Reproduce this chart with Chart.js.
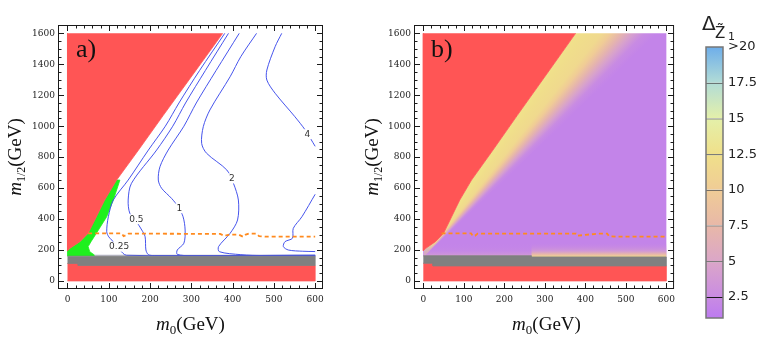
<!DOCTYPE html>
<html><head><meta charset="utf-8"><title>m0 - m1/2 plane</title>
<script src="https://cdn.jsdelivr.net/npm/chart.js@4.4.1/dist/chart.umd.min.js"></script>
<style>
html,body{margin:0;padding:0;background:#fff;}
#wrap{position:relative;width:763px;height:340px;overflow:hidden;background:#fff;}
#wrap canvas{position:absolute;top:0;}
</style></head><body><div id="wrap">
<canvas id="cA" width="340" height="340" style="left:0"></canvas>
<canvas id="cB" width="340" height="340" style="left:340px"></canvas>
<canvas id="cC" width="83" height="340" style="left:680px"></canvas>
</div>
<script>
// ---------------- data ----------------
const xTicks = [0,100,200,300,400,500,600];
const yTicks = [0,200,400,600,800,1000,1200,1400,1600];

// excluded (red) region boundary, bottom -> top
const redEdge = [[0,195],[6,211],[30,254],[50,308],[70,415],[90,523],[119,652],[172,846],[232,1070],[303,1331],[376,1600]];
// right edge of the green strip, top -> bottom
const greenEdge = [[127,652],[111,523],[95,415],[70,308],[57,254],[50,222],[54,189],[66,166],[66,160]];
const redBottomA = [[0,0],[600,0],[600,100],[26,100],[26,113],[0,113]];
const grayA = [[0,113],[26,113],[26,100],[600,100],[600,160],[0,160]];
const lightA = [[66,160],[600,160],[600,167],[66,167]];
const redBottomB = [[0,0],[600,0],[600,97],[24,97],[24,114],[0,114]];
const grayB = [[0,114],[24,114],[24,97],[600,97],[600,155],[267,155],[267,163],[0,163]];

// contours of panel a)
const c025 = [[381,1600],[320,1360],[270,1150],[237,1000],[196,846],[147,652],[111,523],[99,415],[95,318],[100,285],[107,265],[127,200],[143,166],[600,167]];
const c05  = [[390,1600],[334,1360],[286,1150],[255,1000],[216,846],[155,631],[147,523],[151,437],[167,383],[180,329],[188,286],[190,200],[196,170],[210,164],[600,164]];
const c1   = [[416,1600],[360,1360],[312,1150],[282,1000],[244,846],[224,738],[220,652],[228,599],[252,534],[268,480],[280,415],[285,329],[282,244],[266,200],[266,172],[300,163],[600,162]];
const c2   = [[458,1600],[420,1450],[394,1320],[345,1105],[329,997],[325,889],[337,825],[386,717],[402,631],[414,523],[412,394],[394,308],[366,222],[368,189],[420,170],[475,164],[600,161]];
const c4a  = [[519,1600],[503,1514],[483,1363],[483,1298],[503,1213],[551,1061],[576,975],[600,870]];
const c4b  = [[600,560],[568,415],[547,340],[545,276],[527,254],[523,222],[535,200],[570,192],[600,190]];
const contourLabels = [{t:'0.25',x:125,y:222},{t:'0.5',x:167,y:399},{t:'1',x:271,y:470},{t:'2',x:398,y:663},{t:'4',x:581,y:948}];

// orange dashed limit
const orangeA = [[50,308],[131,308],[136,289],[142,296],[148,306],[370,304],[380,291],[392,300],[414,300],[426,285],[432,300],[440,306],[458,306],[464,290],[483,286],[600,286]];
const orangeB = [[45,308],[118,308],[122,290],[128,292],[134,306],[377,306],[381,292],[400,298],[421,303],[430,306],[454,306],[458,290],[478,286],[600,286]];

// panel b) colour field: values along the top row (m1/2 = 1600) and along the low strip
const bTopX   = [376,395,440,462,490,516,546,578];
const bTopVal = [12.6,12.2,11.6,10,7,4.5,2.4,1.8];
const stripY = [158,172,195,250];
const stripRightVal = [11,7.5,3.8,1.8];
const stripLeftVal  = [5,3.5,2.4,1.8];

// colour bar
const cmVals = [1,2.5,5,7.5,10,12.5,15,17.5,20];
const cmCols = ['#bc7af0','#c98ce2','#dba6c8','#e8b8a8','#f0cc96','#f0e08a','#e4f0aa','#b2dcd6','#6eaeea'];
const cbEdges = [1.03,2.5,5,7.5,10,12.5,15,17.5,20];
const cbTicks = [2.5,5,7.5,10,12.5,15,17.5,20];
const cbTickLabels = ['2.5','5','7.5','10','12.5','15','17.5','>20'];

// ---------------- helpers ----------------
const X_MIN=-23, X_MAX=619, Y_MIN=-52, Y_MAX=1654;
const RED='rgb(255,85,85)', GRAY='rgb(128,128,128)', GREEN='rgb(30,240,30)';
const BLUE='rgba(60,75,235,0.95)', ORANGE='rgb(255,138,30)';
const P = a => a.map(([x,y]) => ({x,y}));
const hex = h => [1,3,5].map(i => parseInt(h.slice(i,i+2),16));
const cmRGB = cmCols.map(hex);
function cmap(v, a=1){
  v = Math.max(cmVals[0], Math.min(cmVals[cmVals.length-1], v));
  let i = 0; while(i < cmVals.length-2 && v > cmVals[i+1]) i++;
  const t = (v-cmVals[i])/(cmVals[i+1]-cmVals[i]);
  const c = cmRGB[i].map((c0,k) => Math.round(c0 + (cmRGB[i+1][k]-c0)*t));
  return `rgba(${c[0]},${c[1]},${c[2]},${a})`;
}
function polyDS(arr, color, order, solid){
  return {data:P(arr), fill:'shape', backgroundColor:color, borderColor: solid ? color : 'rgba(0,0,0,0)',
          borderWidth: solid ? 0.8 : 1, tension:0, pointRadius:0, order};
}
function lineDS(arr, color, order, width, dash, tension){
  return {data:P(arr), fill:false, borderColor:color, borderWidth:width, borderDash:dash||[], tension:tension||0,
          pointRadius:0, order, borderCapStyle:'butt'};
}
function richWidth(ctx, parts){ let w=0; for(const p of parts){ ctx.font=p.f; w+=ctx.measureText(p.t).width; } return w; }
function drawRich(ctx, parts, cx, by){
  let x = cx - richWidth(ctx, parts)/2;
  ctx.textAlign='left'; ctx.textBaseline='alphabetic';
  for(const p of parts){ ctx.font=p.f; ctx.fillText(p.t, x, by + (p.dy||0)); x += ctx.measureText(p.t).width; }
}
const SERIF = '"Liberation Serif", "Times New Roman", serif';
const xTitle = [{t:'m', f:`italic 19px ${SERIF}`},{t:'0', f:`13px ${SERIF}`, dy:4},{t:'(GeV)', f:`19px ${SERIF}`}];
const yTitle = [{t:'m', f:`italic 19px ${SERIF}`},{t:'1/2', f:`12px ${SERIF}`, dy:4},{t:'(GeV)', f:`19px ${SERIF}`}];

function decor(opt){
  return {
    id:'decor',
    afterDatasetsDraw(chart){
      if(!opt.labels) return;
      const {ctx, scales:{x,y}} = chart;
      ctx.save();
      ctx.font = '9px "DejaVu Sans"'; ctx.textAlign='center'; ctx.textBaseline='middle';
      for(const L of opt.labels){
        const px = x.getPixelForValue(L.x), py = y.getPixelForValue(L.y);
        const w = ctx.measureText(L.t).width;
        ctx.fillStyle='#fff'; ctx.fillRect(px-w/2-1, py-5, w+2, 10);
        ctx.fillStyle='#333'; ctx.fillText(L.t, px, py);
      }
      ctx.restore();
    },
    afterDraw(chart){
      const {ctx, chartArea:a, scales:{x,y}} = chart;
      ctx.save();
      ctx.strokeStyle='#1a1a1a'; ctx.lineWidth=1;
      ctx.strokeRect(a.left+0.5, a.top+0.5, a.right-a.left-1, a.bottom-a.top-1);
      ctx.beginPath();
      for(let v=0; v<=600; v+=20){
        const len = (v%100===0) ? 6 : 3.5;
        const px = Math.round(x.getPixelForValue(v))+0.5;
        ctx.moveTo(px, a.bottom); ctx.lineTo(px, a.bottom-len);
        ctx.moveTo(px, a.top); ctx.lineTo(px, a.top+len);
      }
      for(let v=0; v<=1600; v+=50){
        const len = (v%200===0) ? 6 : 3.5;
        const py = Math.round(y.getPixelForValue(v))+0.5;
        ctx.moveTo(a.left, py); ctx.lineTo(a.left+len, py);
        ctx.moveTo(a.right, py); ctx.lineTo(a.right-len, py);
      }
      ctx.stroke();
      ctx.fillStyle='#111';
      drawRich(ctx, xTitle, opt.xTitleX, 330);
      ctx.save(); ctx.translate(opt.yTitleX, 157); ctx.rotate(-Math.PI/2);
      drawRich(ctx, yTitle, 0, 0); ctx.restore();
      ctx.font = `26px ${SERIF}`; ctx.textAlign='left'; ctx.textBaseline='alphabetic';
      ctx.fillText(opt.panel, opt.panelX, 57);
      ctx.restore();
    }
  };
}
function panelOptions(yAxisWidth, rightPad){
  const tickFont = {family:'DejaVu Serif', size:9};
  return {
    responsive:false, animation:false, events:[],
    layout:{padding:{left:0, right:rightPad, top:25, bottom:0}},
    plugins:{legend:{display:false}, tooltip:{enabled:false}},
    elements:{point:{radius:0, hoverRadius:0}},
    scales:{
      x:{type:'linear', min:X_MIN, max:X_MAX,
         afterBuildTicks:s=>{ s.ticks = xTicks.map(v=>({value:v})); },
         afterFit:s=>{ s.height = 51; },
         grid:{display:false, drawTicks:false}, border:{display:false},
         ticks:{padding:5, font:tickFont, color:'#222', maxRotation:0, autoSkip:false, callback:v=>String(v)}},
      y:{type:'linear', min:Y_MIN, max:Y_MAX,
         afterBuildTicks:s=>{ s.ticks = yTicks.map(v=>({value:v})); },
         afterFit:s=>{ s.width = yAxisWidth; },
         grid:{display:false, drawTicks:false}, border:{display:false},
         ticks:{padding:3, font:tickFont, color:'#222', autoSkip:false, callback:v=>String(v)}}
    }
  };
}

// ---------------- panel a) ----------------
const greenPoly = [[0,160], ...redEdge.slice(0,7), ...greenEdge];
const redTop = [[0,1600], ...redEdge];
new Chart(document.getElementById('cA'), {
  type:'line',
  data:{datasets:[
    lineDS(orangeA, ORANGE, 1, 1.8, [4,3], 0),
    polyDS(grayA, GRAY, 3, true),
    polyDS(redBottomA, RED, 4, true),
    polyDS(redTop, RED, 4, true),
    lineDS(c025, BLUE, 6, 1, [], 0.3),
    lineDS(c05, BLUE, 6, 1, [], 0.3),
    lineDS(c1, BLUE, 6, 1, [], 0.3),
    lineDS(c2, BLUE, 6, 1, [], 0.3),
    lineDS(c4a, BLUE, 6, 1, [], 0.3),
    lineDS(c4b, BLUE, 6, 1, [], 0.3),
    polyDS(lightA, 'rgb(196,196,210)', 8, true),
    polyDS(greenPoly, GREEN, 8, true)
  ]},
  options: panelOptions(58, 17),
  plugins:[decor({labels:contourLabels, xTitleX:190.5, yTitleX:20.5, panel:'a)', panelX:76})]
});

// ---------------- panel b) ----------------
function bGradient(chart){
  const a = chart.chartArea; if(!a) return cmap(1.8);
  const xs = chart.scales.x, ys = chart.scales.y, ctx = chart.ctx;
  const cx = xs.getPixelForValue(0), cy = ys.getPixelForValue(150);
  const yT = ys.getPixelForValue(1600);
  const ang = bTopX.map(x => Math.atan2(yT-cy, xs.getPixelForValue(x)-cx));
  const start = ang[0]-0.5;
  if(ctx.createConicGradient){
    const g = ctx.createConicGradient(start, cx, cy);
    g.addColorStop(0, cmap(bTopVal[0]));
    ang.forEach((t,i) => g.addColorStop((t-start)/(2*Math.PI), cmap(bTopVal[i])));
    g.addColorStop(1, cmap(bTopVal[bTopVal.length-1]));
    return g;
  }
  const x0 = xs.getPixelForValue(bTopX[0]), x1 = xs.getPixelForValue(bTopX[bTopX.length-1]);
  const g = ctx.createLinearGradient(x0, yT, x1, yT);
  bTopX.forEach((x,i) => g.addColorStop((xs.getPixelForValue(x)-x0)/(x1-x0), cmap(bTopVal[i])));
  return g;
}
function stripGradient(chart, vals, alphas){
  if(!chart.chartArea) return 'rgba(0,0,0,0)';
  const ys = chart.scales.y;
  const y0 = ys.getPixelForValue(stripY[0]), y1 = ys.getPixelForValue(stripY[stripY.length-1]);
  const g = chart.ctx.createLinearGradient(0, y0, 0, y1);
  stripY.forEach((v,i) => g.addColorStop((v-stripY[0])/(stripY[stripY.length-1]-stripY[0]), cmap(vals[i], alphas[i])));
  return g;
}
const regionB = [[0,160], ...redEdge, [600,1600], [600,155]];
const stripRight = [[267,155],[600,155],[600,250],[267,250]];
const stripLeft = [[0,160],[267,160],[267,250],[0,250]];
const regionDS = polyDS(regionB, c => bGradient(c.chart), 9, false);
const srDS = polyDS(stripRight, c => stripGradient(c.chart, stripRightVal, [1,1,0.85,0]), 8, false);
const slDS = polyDS(stripLeft, c => stripGradient(c.chart, stripLeftVal, [0.9,0.8,0.55,0]), 8, false);
new Chart(document.getElementById('cB'), {
  type:'line',
  data:{datasets:[
    lineDS(orangeB, ORANGE, 1, 1.8, [4,3], 0),
    polyDS(grayB, GRAY, 3, true),
    polyDS(redBottomB, RED, 4, true),
    polyDS(redTop, RED, 4, true),
    srDS, slDS, regionDS
  ]},
  options: panelOptions(74, 2),
  plugins:[decor({labels:null, xTitleX:206.5, yTitleX:37.5, panel:'b)', panelX:91})]
});

// ---------------- colour bar ----------------
function cbGradient(chart){
  if(!chart.chartArea) return cmCols[0];
  const y = chart.scales.y, n = cmVals.length-1;
  const g = chart.ctx.createLinearGradient(0, y.getPixelForValue(cmVals[0]), 0, y.getPixelForValue(cmVals[n]));
  cmVals.forEach((v,k) => g.addColorStop((v-cmVals[0])/(cmVals[n]-cmVals[0]), cmCols[k]));
  return g;
}
const cbDatasets = cbEdges.slice(0,-1).map((lo,i) => ({
  data:[[lo, cbEdges[i+1]]],
  backgroundColor: c => cbGradient(c.chart),
  borderColor:'#1a1a1a',
  borderWidth:{top: i < cbEdges.length-2 ? 1 : 0, bottom:0, left:0, right:0},
  borderSkipped:false, grouped:false, barPercentage:1, categoryPercentage:1, inflateAmount:0
}));
new Chart(document.getElementById('cC'), {
  type:'bar',
  data:{labels:[''], datasets:cbDatasets},
  options:{
    responsive:false, animation:false, events:[],
    layout:{padding:{left:26, right:0, top:47, bottom:22}},
    plugins:{legend:{display:false}, tooltip:{enabled:false}},
    scales:{
      x:{type:'category', display:false},
      y:{type:'linear', position:'right', min:cbEdges[0], max:cbEdges[cbEdges.length-1],
         afterBuildTicks:s=>{ s.ticks = cbTicks.map(v=>({value:v})); },
         afterFit:s=>{ s.width = 40; },
         grid:{display:false, drawTicks:false}, border:{display:false},
         ticks:{padding:5, font:{family:'DejaVu Sans', size:13}, color:'#222', autoSkip:false,
                callback:v=>{ const i = cbTicks.indexOf(v); return i>=0 ? cbTickLabels[i] : ''; }}}
    }
  },
  plugins:[{
    id:'cbdecor',
    afterDraw(chart){
      const {ctx, chartArea:a} = chart;
      ctx.save();
      ctx.strokeStyle='#777'; ctx.lineWidth=1.5;
      ctx.strokeRect(a.left, a.top, a.right-a.left, a.bottom-a.top);
      ctx.fillStyle='#222'; ctx.textAlign='left'; ctx.textBaseline='alphabetic';
      ctx.font='20px "DejaVu Sans"'; ctx.fillText('Δ', 22, 30);
      ctx.font='15px "DejaVu Sans"'; ctx.fillText('Z\u0303', 35, 38);
      ctx.font='11px "DejaVu Sans"'; ctx.fillText('1', 48, 40);
      ctx.restore();
    }
  }]
});
</script></body></html>
